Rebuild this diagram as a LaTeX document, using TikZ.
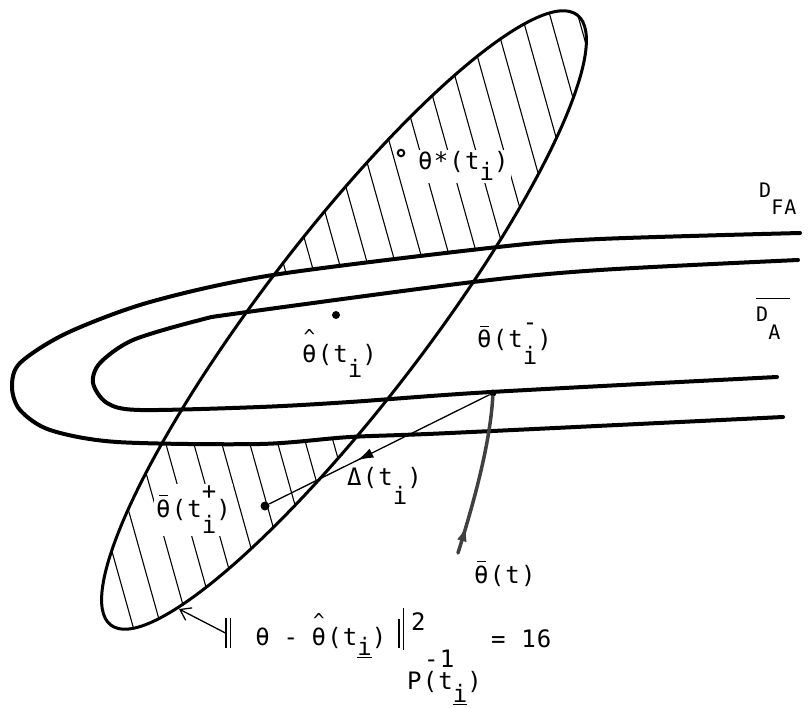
\documentclass[tikz,border=0pt]{standalone}
\usepackage{fontspec}
\setmainfont{DejaVu Sans Mono}[LetterSpace=5]
\usepackage{graphicx}
\usetikzlibrary{arrows.meta,decorations.markings}
\newcommand\dn[2][0.65em]{\raisebox{-#1}{#2}}
\newcommand\upsub[2]{\rlap{\raisebox{0.72em}{#1}}\raisebox{-0.7em}{#2}}
\newcommand\barth{\makebox[0pt][l]{\kern0.13em\rule[0.86em]{0.38em}{1.1pt}}θ}
\newcommand\hatth{\makebox[0pt][l]{\kern0.06em\raisebox{0.75em}{\scalebox{0.8}{\textasciicircum}}}θ}
\newcommand\dbar[2]{\rule[#1]{1.3pt}{#2}\kern3.5pt\rule[#1]{1.3pt}{#2}}
\begin{document}
\begin{tikzpicture}[x=1pt,y=-1pt,
  lbl/.style={font=\fontsize{24}{28}\selectfont, inner sep=0pt, anchor=base west},
  lblw/.style={lbl, fill=white, inner sep=2pt},
  dlbl/.style={font=\fontsize{20}{24}\selectfont, inner sep=0pt, anchor=base west},
  contour/.style={line width=4pt, line cap=round, line join=round},
  ellip/.style={line width=3pt},
  hatchline/.style={line width=1.1pt},
  pdot/.style={circle, fill, inner sep=0pt, minimum size=#1},
  traj/.style={line width=3.5pt, black!75, line cap=round},
  thinl/.style={line width=1.3pt},
  midarrow/.style={postaction={decorate}, decoration={markings,
      mark=at position #1 with {\arrow{Latex[length=16pt,width=10pt]}}}}]
\useasboundingbox (0,0) rectangle (808,708);

% hatching of the ellipse outside the outer contour
\begin{scope}[even odd rule]
  \clip plot[domain=0:360, samples=144, variable=\t]
    ({344 + 384*cos(52.6)*cos(\t) - 83*sin(52.6)*sin(\t)},
     {320 - 384*sin(52.6)*cos(\t) - 83*cos(52.6)*sin(\t)}) -- cycle;
  \clip (-20,-20) rectangle (830,730)
    plot[smooth] coordinates {(800,233) (600,239) (498,247) (273,275) (150,302) (67,333) (20,363) (12,387) (20,410) (50,430) (117,442) (260,444) (350,437) (450,433) (783,417)} -- cycle;
  \foreach \k in {-12,...,26} \draw[hatchline] (\k*28+8,-20) -- ++(210,750);
\end{scope}

% labels that interrupt the hatching
\node[lblw] (starlbl) at (416,170) {θ*(t\dn[0.45em]{i})};
\node[lblw] (pluslbl) at (154,517) {\barth(t\upsub{+}{i})};

% outer contour D_FA and inner contour D_A
\draw[contour] plot[smooth] coordinates {(800,233) (600,239) (498,247) (273,275) (150,302) (67,333) (20,363) (12,387) (20,410) (50,430) (117,442) (260,444) (350,437) (450,433) (783,417)};
\draw[contour] plot[smooth] coordinates {(798,260) (600,270) (473,282) (240,313) (200,320) (133,340) (100,363) (93,383) (107,403) (140,410) (260,407) (350,402) (491,392) (777,377)};

% confidence ellipse
\draw[ellip, shift={(344,320)}, rotate=52.6] (0,0) ellipse [x radius=384, y radius=83];

% points
\node[circle, draw, fill=white, line width=2pt, inner sep=0pt, minimum size=6.5pt] (starpt) at (401,153) {};
\node[pdot=8pt] (hatpt) at (336,315) {};
\node[pdot=9pt] (pluspt) at (265,506) {};
\node[pdot=7pt] (minuspt) at (493,393) {};
\coordinate (tail) at (458,553);
\coordinate (ftip) at (179,609);

% other labels
\node[lbl] (hatlbl) at (302,362) {\hatth(t\dn{i})};
\node[lbl] (minuslbl) at (477,348) {\barth(t\upsub{-}{i})};
\node[lbl] (deltalbl) at (347,485) {Δ(t\dn[0.8em]{i})};
\node[lbl] (trajlbl) at (474,583) {\barth(t)};
\node[dlbl] (dfa) at (759,198) {D\dn[0.85em]{FA}};
\node[dlbl] (da) at (756,322) {\rlap{\raisebox{1.15em}{\rule{1.7em}{1.3pt}}}D\dn[0.9em]{A}};

% formula
\node[lbl] (formula) at (225,645) {\dbar{-0.12em}{1.25em}\kern24pt θ\kern14pt-\kern13.5pt\hatth(t\dn[0.45em]{\underline{i}})\kern12pt\rule[-0.12em]{1.3pt}{1.2em}\kern3.5pt\rule[-0.2em]{1.3pt}{1.75em}};
\node[lbl] (fsq) at (411,630) {2};
\node[lbl] (finv) at (424,667) {-1};
\node[lbl] (fmat) at (407,689) {P(t\dn[0.58em]{\underline{i}})};
\node[lbl] (feq) at (491,647) {= 16};

% connectors
\draw[traj, midarrow=0.18] (tail) .. controls (473,505) and (490,445) .. (minuspt);
\draw[thinl, midarrow=0.6] (minuspt) -- (pluspt);
\draw[thinl, -{Straight Barb[length=10pt,width=14pt]}] (formula.west) -- (ftip);
\end{tikzpicture}
\end{document}
